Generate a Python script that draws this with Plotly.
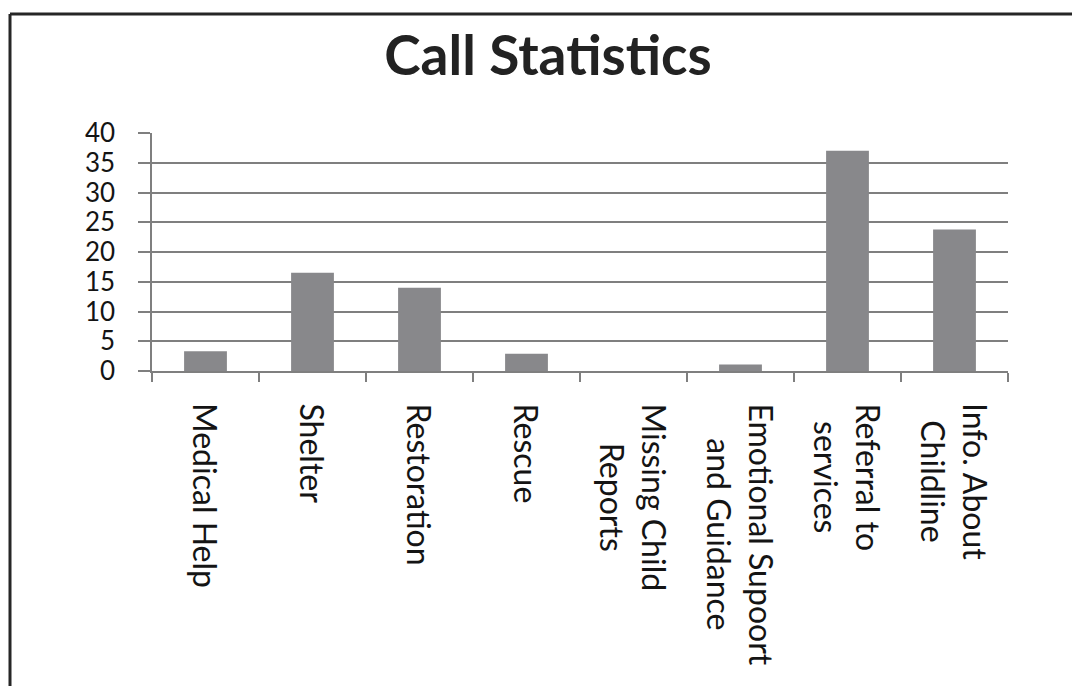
import plotly.graph_objects as go

categories = [
    "Medical Help",
    "Shelter",
    "Restoration",
    "Rescue",
    "Missing Child<br>Reports",
    "Emotional Supoort<br>and Guidance",
    "Referral to<br>services",
    "Info. About<br>Childline",
]
values = [3.3, 16.5, 14.0, 2.9, 0, 1.1, 37.0, 23.8]
y_ticks = [0, 5, 10, 15, 20, 25, 30, 35, 40]

W, H = 1080, 686
OFF = 8  # page offset of the figure inside the browser window
ML, MR, MT, MB = 152 - OFF, 72 + OFF, 133 - OFF, 315 + OFF
pw, ph = W - ML - MR, H - MT - MB


def px_x(p):
    """screen pixel -> paper x"""
    return (p - OFF - ML) / pw


def px_y(p):
    """screen pixel -> paper y"""
    return (H - MB - (p - OFF)) / ph


fig = go.Figure(
    go.Bar(
        x=categories,
        y=values,
        marker=dict(color="#88888b", line=dict(width=0)),
        width=0.4,
    )
)

grid = "#7f7f7f"
fig.update_layout(
    width=W,
    height=H,
    margin=dict(l=ML, r=MR, t=MT, b=MB),
    paper_bgcolor="white",
    plot_bgcolor="white",
    showlegend=False,
    title=dict(
        text="<b>Call Statistics</b>",
        x=px_x(548),
        xref="paper",
        xanchor="center",
        y=1 - (56 - OFF) / H,
        yanchor="middle",
        font=dict(family="Lato", size=55, color="#222222"),
    ),
    font=dict(family="Lato", color="#1a1a1a"),
)

fig.update_yaxes(
    range=[0, 40],
    tickvals=y_ticks,
    ticktext=[str(v) for v in y_ticks],
    showgrid=True,
    gridcolor=grid,
    gridwidth=1.5,
    showline=True,
    linecolor=grid,
    linewidth=1.5,
    ticks="outside",
    ticklen=12,
    tickcolor=grid,
    tickwidth=1.5,
    ticklabelstandoff=18,
    tickfont=dict(family="Lato", size=26, color="#141414"),
    zeroline=False,
)
fig.update_xaxes(
    showline=True,
    linecolor=grid,
    linewidth=1.5,
    ticks="outside",
    tickson="boundaries",
    ticklen=9,
    tickcolor=grid,
    tickwidth=1.5,
    showticklabels=False,
    showgrid=False,
)

# category labels, rotated and centred line by line
for cat in categories:
    fig.add_annotation(
        x=cat,
        xref="x",
        y=px_y(401),
        yref="paper",
        text=cat,
        textangle=90,
        xanchor="center",
        yanchor="top",
        align="center",
        showarrow=False,
        font=dict(family="Lato", size=32, color="#141414"),
    )

# outer frame (left and top edges)
frame = dict(color="#262626", width=3)
fig.add_shape(type="line", xref="paper", yref="paper",
              x0=px_x(10), x1=px_x(10), y0=px_y(14), y1=px_y(720), line=frame)
fig.add_shape(type="line", xref="paper", yref="paper",
              x0=px_x(10), x1=px_x(1100), y0=px_y(14), y1=px_y(14), line=frame)

fig.write_html("out.html")
